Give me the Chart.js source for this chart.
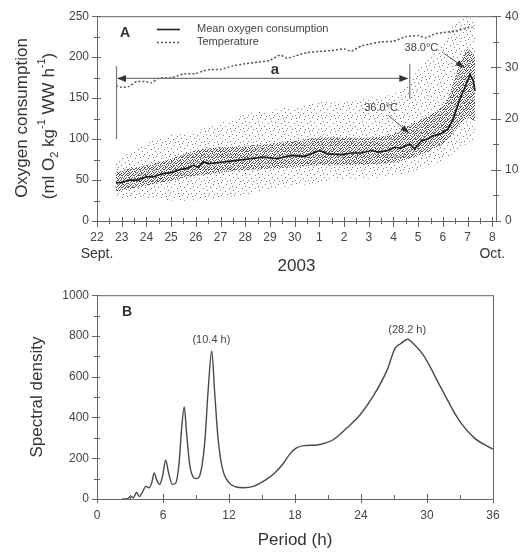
<!DOCTYPE html>
<html>
<head>
<meta charset="utf-8">
<script src="https://cdn.jsdelivr.net/npm/chart.js@4.4.1/dist/chart.umd.min.js"></script>
<style>
  html, body { margin: 0; padding: 0; background: #fff; }
  #wrap { position: relative; width: 526px; height: 552px; }
  #ca { position: absolute; left: 0; top: 0; }
  #cb { position: absolute; left: 0; top: 280px; }
</style>
</head>
<body>
<div id="wrap">
  <canvas id="ca" width="526" height="280"></canvas>
  <canvas id="cb" width="526" height="272"></canvas>
</div>
<script>
// ------------------------------------------------------------
// Panel A: days counted from 22 Sept 2003 00:00
// ------------------------------------------------------------
const DAY_TICKS  = [0, 1, 2, 3, 4, 5, 6, 7, 8, 9, 10, 11, 12, 13, 14, 15, 16];
const DAY_LABELS = ["22","23","24","25","26","27","28","29","30","1","2","3","4","5","6","7","8"];
const O2_TICKS   = [0, 50, 100, 150, 200, 250];
const TEMP_TICKS = [0, 10, 20, 30, 40];

// running mean of oxygen consumption (ml O2 kg-1 WW h-1)
const MEAN_DAYS = [0.77, 1.0, 1.31, 1.6, 2.0, 2.3, 2.67, 3.0, 3.35, 3.6, 3.89, 4.1, 4.3, 4.55, 5.1, 5.4,
                   5.65, 6.2, 6.75, 7.3, 7.85, 8.4, 9.0, 9.33, 9.9, 10.3, 10.7, 11.1, 11.37, 11.78, 12.05,
                   12.3, 12.65, 12.86, 13.13, 13.4, 13.6, 13.87, 14.2, 14.42, 14.69, 14.89, 15.1, 15.23, 15.3];
const MEAN_O2   = [46.5, 47, 49.8, 50, 53.8, 54, 57.9, 59, 62.7, 64, 68, 65.7, 72, 70, 72, 73,
                   74, 76, 78, 76, 80, 79, 86, 82, 81, 83, 83, 86, 84, 86, 90,
                   89, 94, 88, 98, 100, 104, 106, 112, 125, 149, 163, 179, 171, 159];

// water temperature (deg C, right axis)
const TEMP_DAYS = [0.77, 1.0, 1.3, 1.6, 2.0, 2.2, 2.5, 3.0, 3.5, 4.0, 4.3, 4.6, 5.0, 5.5, 6.0, 6.5, 7.0,
                   7.4, 7.7, 8.0, 8.5, 9.0, 9.5, 10.0, 10.3, 10.7, 11.0, 11.5, 12.0, 12.5, 13.0, 13.3,
                   13.7, 14.0, 14.5, 15.0, 15.2];
const TEMP_C    = [26.4, 26.1, 26.3, 27.2, 27.2, 27.0, 27.9, 28.0, 28.7, 28.8, 29.3, 29.6, 29.6, 30.3, 30.7, 31.0, 31.4,
                   32.4, 31.8, 32.2, 32.9, 33.1, 33.3, 33.6, 33.2, 34.2, 34.5, 35.0, 35.1, 36.0, 36.2, 35.8,
                   36.6, 36.8, 37.1, 37.7, 37.9];

// extent of the individual readings: dense core and sparse outer cloud
const BAND_DAYS = [0.75, 1, 2, 3, 4, 5, 6, 7, 8, 9, 10, 11, 12, 12.5, 13, 13.5, 14, 14.3, 14.6, 15, 15.3];
const CORE_LO   = [36, 37, 43, 49, 55, 59, 62, 64, 66, 68, 68, 69, 71, 75, 80, 86, 94, 103, 115, 125, 122];
const CORE_HI   = [60, 62, 68, 76, 86, 90, 92, 94, 98, 102, 102, 102, 106, 114, 122, 130, 140, 158, 185, 210, 200];
const CLOUD_LO  = [30, 28, 28, 25, 25, 28, 32, 38, 42, 48, 50, 52, 55, 58, 62, 68, 72, 80, 85, 95, 100];
const CLOUD_HI  = [70, 78, 95, 105, 110, 120, 130, 135, 140, 145, 145, 150, 155, 165, 185, 200, 215, 235, 245, 250, 240];

// ------------------------------------------------------------
// Panel B: spectral density vs period
// ------------------------------------------------------------
const PERIOD_TICKS  = [0, 6, 12, 18, 24, 30, 36];
const DENSITY_TICKS = [0, 200, 400, 600, 800, 1000];
const PERIOD_H = [2.3, 2.8, 3.05, 3.3, 3.6, 3.85, 4.1, 4.45, 4.75, 5.0, 5.2, 5.45, 5.7, 5.95, 6.25, 6.5,
                  6.85, 7.15, 7.45, 7.7, 7.93, 8.15, 8.45, 8.8, 9.05, 9.4, 9.8, 10.1, 10.43, 10.7, 11.0,
                  11.4, 12.0, 12.6, 13.3, 14.2, 15.4, 16.2, 16.9, 17.6, 18.1, 18.8, 20.0, 20.8, 21.5,
                  22.7, 23.9, 25.15, 26.4, 27.1, 27.6, 28.25, 28.8, 29.7, 31.25, 32.8, 34.3, 36];
const DENSITY  = [0, 2, 14, 6, 32, 12, 30, 62, 55, 85, 128, 90, 72, 110, 190, 130,
                  72, 78, 170, 350, 452, 320, 160, 105, 100, 125, 280, 530, 727, 520, 300,
                  150, 80, 60, 55, 62, 96, 130, 172, 225, 250, 262, 265, 275, 292,
                  348, 412, 508, 636, 740, 762, 784, 760, 703, 548, 396, 300, 244];

const FONT = '"Liberation Sans", Arial, Helvetica, sans-serif';
const AXIS = "#666", INK = "#333", TICK = "#444";
Chart.defaults.font.family = FONT;

const xy = (xs, ys) => xs.map((x, i) => ({ x, y: ys[i] }));
const fixTicks = vals => s => { s.ticks = vals.map(v => ({ value: v })); };

// speckled fill (transparent tile) so the bands read like a cloud of points
function dotPattern(size, color, dots) {
  const c = document.createElement("canvas");
  c.width = c.height = size;
  const g = c.getContext("2d");
  g.fillStyle = color;
  dots.forEach(([x, y]) => g.fillRect(x, y, 1, 1));
  return g.createPattern(c, "repeat");
}
const cloudFill = dotPattern(13, "#7a7a7a",
  [[0, 0], [5, 2], [10, 1], [2, 5], [8, 6], [12, 8], [4, 9], [9, 11], [1, 11], [6, 12], [11, 4]]);
const coreFill = dotPattern(6, "#505050",
  [[0, 0], [3, 0], [1, 1], [5, 1], [4, 2], [0, 3], [2, 3], [5, 4], [3, 4], [1, 5], [4, 5], [2, 1]]);

function txt(ctx, s, x, y, font, color, align = "center", base = "middle") {
  ctx.save();
  ctx.font = font; ctx.fillStyle = color; ctx.textAlign = align; ctx.textBaseline = base;
  ctx.fillText(s, x, y);
  ctx.restore();
}

// vertical label with sub/superscripts; parts: [{t, s:"sub"|"sup"}]
function vText(ctx, parts, cx, cy, size, color) {
  const small = Math.round(size * 0.65);
  ctx.save();
  ctx.translate(cx, cy); ctx.rotate(-Math.PI / 2);
  ctx.fillStyle = color; ctx.textBaseline = "middle"; ctx.textAlign = "left";
  let w = 0;
  parts.forEach(p => { ctx.font = (p.s ? small : size) + "px " + FONT; p.w = ctx.measureText(p.t).width; w += p.w; });
  let x = -w / 2;
  parts.forEach(p => {
    ctx.font = (p.s ? small : size) + "px " + FONT;
    const dy = p.s === "sub" ? size * 0.38 : p.s === "sup" ? -size * 0.42 : 0;
    ctx.fillText(p.t, x, dy);
    x += p.w;
  });
  ctx.restore();
}

function line(ctx, x1, y1, x2, y2, color, w = 1, dash = []) {
  ctx.save();
  ctx.strokeStyle = color; ctx.lineWidth = w; ctx.setLineDash(dash);
  ctx.beginPath(); ctx.moveTo(x1, y1); ctx.lineTo(x2, y2); ctx.stroke();
  ctx.restore();
}

function arrowHead(ctx, x1, y1, x2, y2, len, half, color) {
  const a = Math.atan2(y2 - y1, x2 - x1);
  ctx.save();
  ctx.fillStyle = color;
  ctx.beginPath();
  ctx.moveTo(x2, y2);
  ctx.lineTo(x2 - len * Math.cos(a) + half * Math.sin(a), y2 - len * Math.sin(a) - half * Math.cos(a));
  ctx.lineTo(x2 - len * Math.cos(a) - half * Math.sin(a), y2 - len * Math.sin(a) + half * Math.cos(a));
  ctx.closePath(); ctx.fill();
  ctx.restore();
}

// tick marks that cross the axis line (major and minor)
function crossTicks(ctx, scale, vals, inner, outer) {
  ctx.save();
  ctx.strokeStyle = AXIS; ctx.lineWidth = 1;
  ctx.beginPath();
  vals.forEach(v => {
    const p = Math.round(scale.getPixelForValue(v)) + 0.5;
    if (scale.position === "bottom") { const y = scale.top; ctx.moveTo(p, y - inner); ctx.lineTo(p, y + outer); }
    else if (scale.position === "left") { const x = scale.right; ctx.moveTo(x - outer, p); ctx.lineTo(x + inner, p); }
    else { const x = scale.left; ctx.moveTo(x - inner, p); ctx.lineTo(x + outer, p); }
  });
  ctx.stroke();
  ctx.restore();
}

const halfSteps = (ticks, step) => ticks.slice(0, -1).map(v => v + step);

const axisOpts = (vals, labels, fit, padding) => ({
  afterBuildTicks: fixTicks(vals),
  afterFit: fit,
  grid: { display: false, drawTicks: false },
  border: { display: true, color: AXIS, width: 1 },
  ticks: {
    autoSkip: false, maxRotation: 0, padding, color: TICK, font: { size: 12 },
    callback: v => labels ? labels[vals.indexOf(v)] : String(v)
  }
});

// ---------------- Panel A ----------------
const decorA = {
  id: "decorA",
  afterDraw(chart) {
    const { ctx, chartArea: ca, scales: { x, y, y1 } } = chart;
    line(ctx, ca.left, ca.top + 0.5, ca.right, ca.top + 0.5, AXIS);
    crossTicks(ctx, x, DAY_TICKS, 4, 6);
    crossTicks(ctx, x, halfSteps(DAY_TICKS, 0.5), 3, 3);
    crossTicks(ctx, y, O2_TICKS, 4, 5);
    crossTicks(ctx, y, halfSteps(O2_TICKS, 25), 3, 3);
    crossTicks(ctx, y1, TEMP_TICKS, 5, 5);
    crossTicks(ctx, y1, halfSteps(TEMP_TICKS, 5), 3, 3);

    txt(ctx, "Sept.", x.getPixelForValue(0), 254, "14px " + FONT, INK);
    txt(ctx, "Oct.", x.getPixelForValue(16), 254, "14px " + FONT, INK);
    txt(ctx, "2003", (ca.left + ca.right) / 2, 266, "17px " + FONT, INK);

    vText(ctx, [{ t: "Oxygen consumption" }], 22, 118, 17, INK);
    vText(ctx, [{ t: "(ml O" }, { t: "2", s: "sub" }, { t: " kg" }, { t: "-1", s: "sup" },
                { t: " WW h" }, { t: "-1", s: "sup" }, { t: ")" }], 49, 126, 17, INK);

    // panel letter + legend
    txt(ctx, "A", ca.left + 28, 33, "bold 14px " + FONT, INK);
    line(ctx, ca.left + 60, 29.5, ca.left + 83, 29.5, "#222", 1.6);
    line(ctx, ca.left + 60, 42.5, ca.left + 83, 42.5, "#555", 1.5, [2, 2]);
    txt(ctx, "Mean oxygen consumption", ca.left + 100, 29, "11px " + FONT, "#444", "left");
    txt(ctx, "Temperature", ca.left + 100, 42, "11px " + FONT, "#444", "left");

    // bracket "a"
    const gx = "#777";
    const xl = x.getPixelForValue(0.77), xr = x.getPixelForValue(12.64), ya = y.getPixelForValue(174);
    line(ctx, xl + 0.5, y.getPixelForValue(189), xl + 0.5, y.getPixelForValue(100), gx, 1.2);
    line(ctx, xr + 0.5, y.getPixelForValue(192), xr + 0.5, y.getPixelForValue(149), gx, 1.2);
    line(ctx, xl + 2, ya, xr - 2, ya, gx, 1.2);
    arrowHead(ctx, xr, ya, xl + 1, ya, 9, 3.5, "#333");
    arrowHead(ctx, xl, ya, xr - 1, ya, 9, 3.5, "#333");
    txt(ctx, "a", x.getPixelForValue(7.2), ya - 9, "bold 15px " + FONT, INK);

    // temperature call-outs
    txt(ctx, "36.0\u00b0C", x.getPixelForValue(11.5), y.getPixelForValue(138), "11px " + FONT, "#444");
    line(ctx, x.getPixelForValue(11.79), y.getPixelForValue(129), x.getPixelForValue(12.64), y.getPixelForValue(107), "#555", 1);
    arrowHead(ctx, x.getPixelForValue(11.79), y.getPixelForValue(129), x.getPixelForValue(12.64), y.getPixelForValue(107), 9, 3, "#333");
    txt(ctx, "38.0\u00b0C", x.getPixelForValue(13.13), y.getPixelForValue(211), "11px " + FONT, "#444");
    line(ctx, x.getPixelForValue(14.02), y.getPixelForValue(205), x.getPixelForValue(14.88), y.getPixelForValue(187), "#555", 1);
    arrowHead(ctx, x.getPixelForValue(14.02), y.getPixelForValue(205), x.getPixelForValue(14.88), y.getPixelForValue(187), 9, 3, "#333");
  }
};

const band = (ys, fill, bg, order) => ({
  data: xy(BAND_DAYS, ys), yAxisID: "y", fill, backgroundColor: bg,
  borderColor: "rgba(0,0,0,0)", borderWidth: 0, pointRadius: 0, tension: 0.3, order
});

new Chart(document.getElementById("ca"), {
  type: "line",
  data: {
    datasets: [
      { label: "Mean oxygen consumption", data: xy(MEAN_DAYS, MEAN_O2), yAxisID: "y",
        borderColor: "#1c1c1c", borderWidth: 1.7, pointRadius: 0, tension: 0, fill: false, order: 0 },
      { label: "Temperature", data: xy(TEMP_DAYS, TEMP_C), yAxisID: "y1",
        borderColor: "#555", borderWidth: 1.5, borderDash: [2, 2], pointRadius: 0, tension: 0.2, fill: false, order: 1 },
      band(CORE_HI, "+1", coreFill, 2),
      band(CORE_LO, false, null, 3),
      band(CLOUD_HI, "+1", cloudFill, 4),
      band(CLOUD_LO, false, null, 5)
    ]
  },
  options: {
    responsive: false, animation: false,
    layout: { padding: { top: 15, left: 0, right: 0, bottom: 0 } },
    plugins: { legend: { display: false }, tooltip: { enabled: false } },
    scales: {
      x: Object.assign({ type: "linear", min: 0, max: 16.15 },
        axisOpts(DAY_TICKS, DAY_LABELS, s => { s.height = 59; }, 9)),
      y: Object.assign({ type: "linear", position: "left", min: 0, max: 250 },
        axisOpts(O2_TICKS, null, s => { s.width = 97; }, 8)),
      y1: Object.assign({ type: "linear", position: "right", min: 0, max: 40 },
        axisOpts(TEMP_TICKS, null, s => { s.width = 30; }, 9))
    }
  },
  plugins: [decorA]
});

// ---------------- Panel B ----------------
const decorB = {
  id: "decorB",
  afterDraw(chart) {
    const { ctx, chartArea: ca, scales: { x, y } } = chart;
    line(ctx, ca.left, ca.top + 0.5, ca.right, ca.top + 0.5, AXIS);
    line(ctx, ca.right + 0.5, ca.top, ca.right + 0.5, ca.bottom, AXIS);
    crossTicks(ctx, x, PERIOD_TICKS, 5, 4);
    crossTicks(ctx, x, halfSteps(PERIOD_TICKS, 3), 4, 0);
    crossTicks(ctx, y, DENSITY_TICKS, 3, 5);
    crossTicks(ctx, y, halfSteps(DENSITY_TICKS, 100), 3, 3);

    txt(ctx, "B", ca.left + 30, 32, "bold 14px " + FONT, INK);
    txt(ctx, "(10.4 h)", x.getPixelForValue(10.4), y.getPixelForValue(779), "11px " + FONT, "#444");
    txt(ctx, "(28.2 h)", x.getPixelForValue(28.2), y.getPixelForValue(831), "11px " + FONT, "#444");

    vText(ctx, [{ t: "Spectral density" }], 37, (ca.top + ca.bottom) / 2, 17, INK);
    txt(ctx, "Period (h)", (ca.left + ca.right) / 2, 260, "17px " + FONT, INK);
  }
};

new Chart(document.getElementById("cb"), {
  type: "line",
  data: {
    datasets: [{
      label: "Spectral density", data: xy(PERIOD_H, DENSITY),
      borderColor: "#4a4a4a", borderWidth: 1.4, pointRadius: 0,
      cubicInterpolationMode: "monotone", fill: false
    }]
  },
  options: {
    responsive: false, animation: false,
    layout: { padding: { top: 11, left: 0, right: 33, bottom: 0 } },
    plugins: { legend: { display: false }, tooltip: { enabled: false } },
    scales: {
      x: Object.assign({ type: "linear", min: 0, max: 36 },
        axisOpts(PERIOD_TICKS, null, s => { s.height = 53; }, 9)),
      y: Object.assign({ type: "linear", position: "left", min: 0, max: 1000 },
        axisOpts(DENSITY_TICKS, null, s => { s.width = 97; }, 8))
    }
  },
  plugins: [decorB]
});
</script>
</body>
</html>
